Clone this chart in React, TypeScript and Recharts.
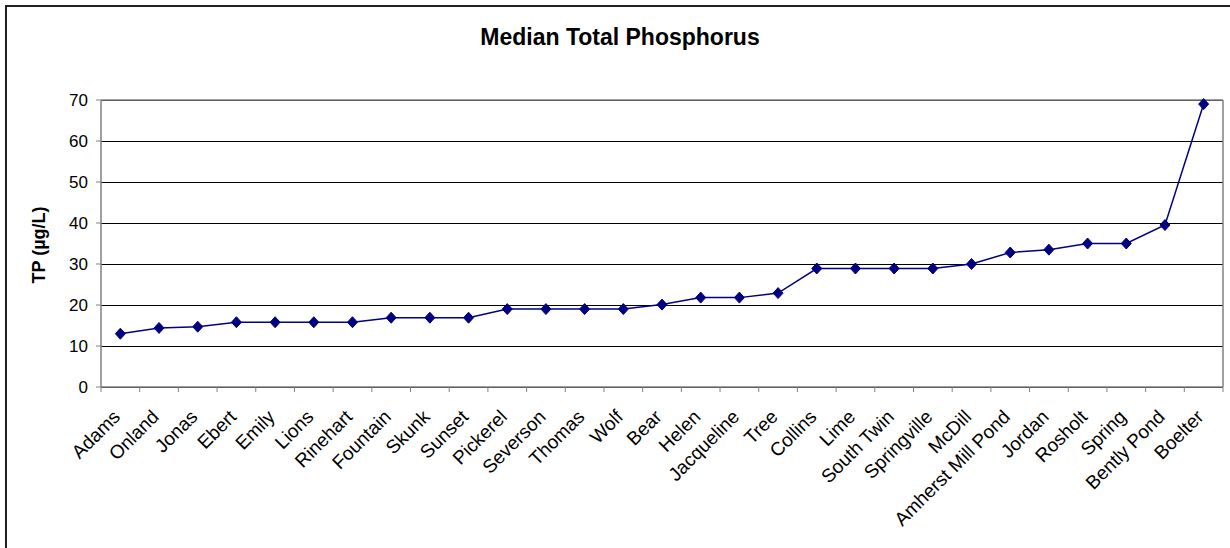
import { LineChart, Line, XAxis, YAxis, CartesianGrid, ReferenceLine } from 'recharts';

const lakes = [
  'Adams', 'Onland', 'Jonas', 'Ebert', 'Emily', 'Lions', 'Rinehart', 'Fountain', 'Skunk', 'Sunset',
  'Pickerel', 'Severson', 'Thomas', 'Wolf', 'Bear', 'Helen', 'Jacqueline', 'Tree', 'Collins', 'Lime',
  'South Twin', 'Springville', 'McDill', 'Amherst Mill Pond', 'Jordan', 'Rosholt', 'Spring', 'Bently Pond', 'Boelter',
];

const medianTP = [
  13, 14.4, 14.7, 15.8, 15.8, 15.8, 15.8, 16.9, 16.9, 16.9,
  19, 19, 19, 19, 20.1, 21.8, 21.8, 22.9, 28.9, 28.9,
  28.9, 28.9, 30, 32.8, 33.5, 35, 35, 39.5, 69,
];

const yTicks = [0, 10, 20, 30, 40, 50, 60, 70];

const data = lakes.map((name, i) => ({ name, tp: medianTP[i] }));

const FONT = '"Liberation Sans", Arial, sans-serif';

const Diamond = (props: any) => {
  const { cx, cy } = props;
  if (cx == null || cy == null) return null;
  return (
    <path
      d={`M${cx},${cy - 5.5}L${cx + 5},${cy}L${cx},${cy + 5.5}L${cx - 5},${cy}Z`}
      fill="#000080"
      stroke="#000080"
    />
  );
};

// label plus Excel-style tick marks between categories (payload.offset = half band)
const LakeTick = (props: any) => {
  const { x, y, payload, index, visibleTicksCount } = props;
  const half = payload.offset || 0;
  const tx = x + 1;
  const ty = y + 31;
  const isLast = index === visibleTicksCount - 1;
  return (
    <g>
      <line x1={x - half} y1={y} x2={x - half} y2={y + 5} stroke="#808080" />
      {isLast && <line x1={x + half} y1={y} x2={x + half} y2={y + 5} stroke="#808080" />}
      <text
        x={tx}
        y={ty}
        transform={`rotate(-45, ${tx}, ${ty})`}
        textAnchor="end"
        fontSize={19}
        fontFamily={FONT}
        fill="#000"
      >
        {payload.value}
      </text>
    </g>
  );
};

export default function App() {
  return (
    <div style={{ position: 'absolute', left: 0, top: 0, width: 1230, height: 548, background: '#fff', overflow: 'hidden' }}>
      <div
        style={{
          position: 'absolute', left: 5, top: 5, width: 1240, height: 560,
          borderTop: '2px solid #222', borderLeft: '2px solid #222', pointerEvents: 'none',
        }}
      />
      <div
        style={{
          position: 'absolute', left: 0, top: 24, width: 1240, textAlign: 'center',
          fontFamily: FONT, fontWeight: 'bold', fontSize: 23, color: '#000',
        }}
      >
        Median Total Phosphorus
      </div>
      <div
        style={{
          position: 'absolute', left: 39, top: 245, transform: 'translate(-50%, -50%) rotate(-90deg)',
          whiteSpace: 'nowrap', fontFamily: FONT, fontWeight: 'bold', fontSize: 18, color: '#000',
        }}
      >
        TP (µg/L)
      </div>
      <LineChart width={1230} height={548} data={data} margin={{ top: 100, right: 6, bottom: 0, left: 0 }}>
        <CartesianGrid vertical={false} stroke="#000" strokeWidth={1} shapeRendering="crispEdges" />
        <XAxis
          dataKey="name"
          scale="band"
          interval={0}
          tickLine={false}
          tickSize={0}
          tickMargin={0}
          axisLine={{ stroke: '#808080', strokeWidth: 1.5 }}
          tick={<LakeTick />}
          height={161}
        />
        <YAxis
          domain={[0, 70]}
          ticks={yTicks}
          interval={0}
          width={101}
          tickSize={5}
          tickMargin={8}
          tickLine={{ stroke: '#808080' }}
          axisLine={{ stroke: '#808080', strokeWidth: 1.5 }}
          tick={{ fill: '#000', fontSize: 17, fontFamily: FONT }}
        />
        <YAxis
          yAxisId="right"
          orientation="right"
          domain={[0, 70]}
          width={1}
          tick={false}
          tickLine={false}
          axisLine={{ stroke: '#808080', strokeWidth: 1.5 }}
        />
        <ReferenceLine y={70} stroke="#808080" strokeWidth={1.5} />
        <Line
          type="linear"
          dataKey="tp"
          stroke="#000080"
          strokeWidth={1.5}
          dot={<Diamond />}
          activeDot={false}
          isAnimationActive={false}
        />
      </LineChart>
    </div>
  );
}
